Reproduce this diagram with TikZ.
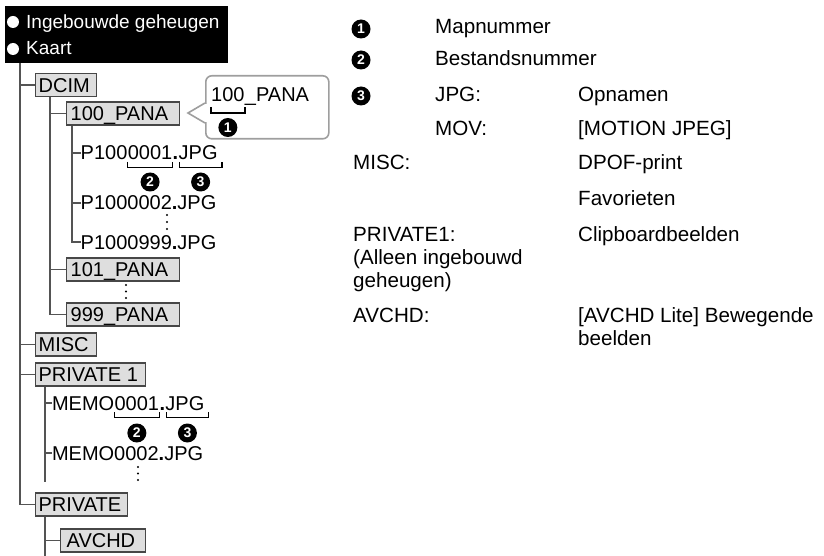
\documentclass[tikz,border=0pt]{standalone}
\usepackage{fontspec}
\setmainfont{Liberation Sans}
\definecolor{treeline}{gray}{0.33}
\definecolor{boxline}{gray}{0.28}
\definecolor{boxfill}{gray}{0.87}
\definecolor{calline}{gray}{0.62}
\newcommand\tf{\fontsize{20}{24}\selectfont}
\newcommand\rf{\fontsize{20.6}{23}\selectfont}
\newcommand\hf{\fontsize{19}{23}\selectfont}
\newcommand\bxt[2]{\makebox[#1pt][l]{#2}}
\begin{document}
\begin{tikzpicture}[x=1pt,y=1pt,
 tree/.style={draw=treeline, line width=1.9pt},
 folder/.style={draw=boxline, fill=boxfill, line width=1.3pt, inner xsep=3pt, inner ysep=0pt, minimum height=23pt, text height=14.4pt, text depth=0pt, anchor=west, font=\tf},
 fn/.style={inner sep=0pt, anchor=base west, font=\tf},
 brk/.style={draw=black, line width=1.5pt, line join=miter},
 num/.style={circle, fill=black, text=white, inner sep=0pt, minimum size=19pt, font=\fontsize{14}{14}\selectfont\bfseries},
 rt/.style={inner sep=0pt, anchor=base west, font=\rf},
 hd/.style={inner sep=0pt, anchor=base west, font=\hf, text=white},
 bul/.style={circle, fill=white, inner sep=0pt, minimum size=12pt},
 edot/.style={fill=black}
]
\useasboundingbox (0,0) rectangle (824,-556);

% header
\node[fill=black, minimum width=223pt, minimum height=57pt, anchor=north west, inner sep=0pt] (hdr) at (5,-6) {};
\node[bul] (b1) at (13,-22) {};
\node[hd] (h1) at (26,-28.5) {Ingebouwde geheugen};
\node[bul] (b2) at (13,-49) {};
\node[hd] (h2) at (26,-55) {Kaart};

% named x positions of the tree lines
\coordinate (tx) at (20,0);
\coordinate (dx) at (50,0);
\coordinate (px) at (72,0);
\coordinate (qx) at (45,0);

% folders
\node[folder] (dcim) at (35,-85) {\bxt{55}{DCIM}};
\node[folder] (p100) at (66,-113.5) {\bxt{107}{\hspace{1pt}100\_PANA}};
\node[folder] (p101) at (66,-269.5) {\bxt{107}{\hspace{1pt}101\_PANA}};
\node[folder] (p999) at (66,-314.5) {\bxt{107}{\hspace{1pt}999\_PANA}};
\node[folder] (misc) at (35,-344.5) {\bxt{55}{MISC}};
\node[folder] (priv1) at (35,-374.5) {\bxt{104}{PRIVATE 1}};
\node[folder] (private) at (35,-504.5) {\bxt{86}{PRIVATE}};
\node[folder] (avchd) at (60,-540.5) {\bxt{79}{\hspace{3pt}AVCHD}};

% file names
\node[fn] (f1a) at (80.5,-160) {P100};
\node[fn] (f1b) at (f1a.base east) {0001};
\node[fn] (f1c) at (f1b.base east) {\textbf{.}};
\node[fn] (f1d) at (f1c.base east) {JPG};
\node[fn] (f2) at (80.5,-210) {P1000002\textbf{.}JPG};
\node[fn] (f3) at (80.5,-249) {P1000999\textbf{.}JPG};
\node[fn] (m1a) at (51.8,-410) {MEMO};
\node[fn] (m1b) at (m1a.base east) {0001};
\node[fn] (m1c) at (m1b.base east) {\textbf{.}};
\node[fn] (m1d) at (m1c.base east) {JPG};
\node[fn] (m2) at (51.8,-460) {MEMO0002\textbf{.}JPG};

% tree lines
\draw[tree] (hdr.south -| tx) |- (private.west);
\foreach \n in {dcim,misc,priv1} \draw[tree] (\n.west -| tx) -- (\n.west);
\draw[tree] (dcim.south -| dx) |- (p999.west);
\foreach \n in {p100,p101} \draw[tree] (\n.west -| dx) -- (\n.west);
\draw[tree] (p100.south -| px) |- (f3.west);
\foreach \n in {f1a,f2} \draw[tree] (\n.west -| px) -- (\n.west);
\coordinate (mend) at (45,-482);
\draw[tree] (priv1.south -| qx) -- (mend);
\foreach \n in {m1a,m2} \draw[tree] (\n.west -| qx) -- (\n.west);
\coordinate (pend) at (45,-556);
\draw[tree] (private.south -| qx) -- (pend);
\draw[tree] (avchd.west -| qx) -- (avchd.west);

% brackets and numbers under file names
\foreach \p in {f1b, m1b} {
  \draw[brk] ([yshift=-2pt]\p.base west) -- ([yshift=-7.5pt]\p.base west) -- ([yshift=-7.5pt]\p.base east) -- ([yshift=-2pt]\p.base east);
}
\foreach \p in {f1d, m1d} {
  \draw[brk] ([xshift=1pt,yshift=-2pt]\p.base west) -- ([xshift=1pt,yshift=-7.5pt]\p.base west) -- ([xshift=4pt,yshift=-7.5pt]\p.base east) -- ([xshift=4pt,yshift=-2pt]\p.base east);
}
\node[num] (f1n2) at ([yshift=-22pt]f1b.base) {2};
\node[num] (f1n3) at ([xshift=2.5pt,yshift=-22pt]f1d.base) {3};
\node[num] (m1n2) at ([yshift=-23pt]m1b.base) {2};
\node[num] (m1n3) at ([xshift=2.5pt,yshift=-23pt]m1d.base) {3};

% vertical ellipses
\foreach \y in {-215,-222,-229} \fill[edot] (167,\y) circle (1.2);
\foreach \y in {-285,-291.5,-298} \fill[edot] (126,\y) circle (1.2);
\foreach \y in {-467,-473.5,-480} \fill[edot] (138,\y) circle (1.2);

% callout
\node[draw=calline, line width=1.6pt, rounded corners=6pt, minimum width=123pt, minimum height=63pt, inner sep=0pt, anchor=north west] (co) at (205,-75) {};
\coordinate (tip) at (188,-113);
\fill[white] (202.5,-104.3) rectangle (207.5,-121.7);
\draw[draw=calline, line width=1.6pt, line join=miter] (205,-103) -- (tip) -- (205,-123);
\node[fn] (c1) at (211,-102) {100};
\node[fn] (c2) at (c1.base east) {\_PANA};
\draw[brk] ([yshift=-5pt]c1.base west) -- ([yshift=-11pt]c1.base west) -- ([yshift=-11pt]c1.base east) -- ([yshift=-5pt]c1.base east);
\node[num] (cn1) at ([yshift=-25.5pt]c1.base) {1};

% legend on the right
\node[num] (r1n) at (361,-29) {1};
\node[rt] (r1t) at (435,-34) {Mapnummer};
\node[num] (r2n) at (361,-60) {2};
\node[rt] (r2t) at (435,-65.5) {Bestandsnummer};
\node[num] (r3n) at (361,-96) {3};
\node[rt] (r3a) at (435,-102) {JPG:};
\node[rt] (r3b) at (578,-102) {Opnamen};
\node[rt] (r4a) at (435,-135.5) {MOV:};
\node[rt] (r4b) at (578,-135.5) {[MOTION JPEG]};
\node[rt] (r5a) at (353,-170) {MISC:};
\node[rt] (r5b) at (578,-170) {DPOF-print};
\node[rt] (r6b) at (578,-205) {Favorieten};
\node[rt] (r7a) at (353,-241) {PRIVATE1:};
\node[rt] (r7b) at (578,-241) {Clipboardbeelden};
\node[rt] (r7c) at (353,-264) {(Alleen ingebouwd};
\node[rt] (r7d) at (353,-287) {geheugen)};
\node[rt] (r8a) at (353,-322) {AVCHD:};
\node[rt] (r8b) at (578,-322) {[AVCHD Lite] Bewegende};
\node[rt] (r8c) at (578,-345) {beelden};
\end{tikzpicture}
\end{document}
